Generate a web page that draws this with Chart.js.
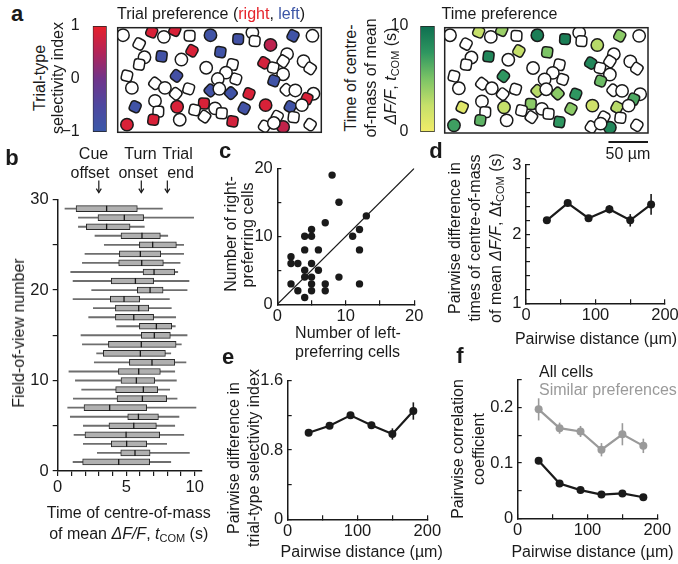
<!DOCTYPE html>
<html><head><meta charset="utf-8">
<script src="https://cdn.jsdelivr.net/npm/chart.js@4.4.1/dist/chart.umd.min.js"></script>
<style>
html,body{margin:0;padding:0;background:#fff;}
#root{position:relative;width:678px;height:564px;overflow:hidden;font-family:"Liberation Sans",Arial,Helvetica,sans-serif;color:#1a1a1a;}
.t{position:absolute;white-space:nowrap;transform:translate(-50%,-50%);font-size:16px;line-height:18px;}
sub{font-size:11px;vertical-align:-3px;line-height:0;}
canvas{position:absolute;}
</style></head><body><div id="root"></div>
<script>
// ---------------- DATA ----------------
// Panel a: cell positions in the field of view (µm), selectivity index and t_COM (null = not significant)
const FIELD_W = 257, FIELD_H = 134, scaleBarUm = 50;
const cellX = [6.7,42.9,58.3,72.1,90.8,117.1,152.1,170.0,172.9,221.3,245.8,27.1,192.9,93.8,55.4,80.4,129.6,33.8,27.1,184.6,213.8,208.8,234.6,242.9,196.3,111.7,145.0,136.7,11.7,74.2,17.9,47.1,59.6,73.3,89.6,126.3,149.2,208.8,197.1,212.9,224.2,117.1,128.3,142.9,165.8,247.1,238.8,47.1,22.1,51.3,75.0,108.8,122.9,131.3,159.6,186.7,217.9,232.5,201.3,222.1,11.7,45.0,78.3,145.0,185.4,208.8,242.9,197.1,109.6,97.1];
const cellY = [9.6,5.4,11.7,3.3,10.4,9.6,14.6,6.3,17.1,10.4,10.4,20.8,22.1,29.6,36.7,40.8,31.3,37.9,47.1,45.0,33.8,42.9,42.9,52.1,51.3,51.3,47.1,57.5,61.7,61.7,77.1,71.3,77.1,84.6,78.3,65.8,65.8,59.6,67.9,79.6,80.4,80.4,78.3,83.8,84.6,84.6,90.8,93.8,101.3,107.5,101.3,97.1,103.3,109.6,103.3,99.2,101.3,99.2,113.8,114.6,124.2,117.9,117.9,120.0,126.3,127.1,124.2,122.1,113.8,105.4];
const cellSelectivity = [null,0.85,null,0.85,null,-0.85,-0.8,null,null,-0.85,null,null,0.6,0.85,-0.8,null,-0.85,null,null,0.8,null,null,null,null,null,null,null,null,null,-0.75,null,null,null,null,null,null,null,null,-0.85,null,null,-0.8,null,-0.85,0.85,null,0.85,null,-0.85,null,0.85,0.85,null,null,-0.8,0.85,-0.85,null,null,null,0.85,0.85,null,0.8,null,0.65,null,null,null,null];
const cellTcom = [null,2.5,null,4,null,9,9,null,null,4.5,null,null,3,2.5,8.5,null,5,null,null,8.5,null,null,null,null,null,null,null,null,null,7.5,null,null,null,null,null,null,null,null,5.5,null,null,3,null,4.5,7.5,null,6.5,null,1,null,2.5,4.5,null,null,4.5,2,3,null,null,null,7,6,null,7.5,null,8.5,null,null,null,null];
const selTicks = [-1,0,1];
const tcomTicks = [0,10];

// Panel b: box plots of t_COM per field of view
const fovNumber   = [1,2,3,4,5,6,7,8,9,10,11,12,13,14,15,16,17,18,19,20,21,22,23,24,25,26,27,28,29];
const whiskerLow  = [1.12,2.89,1.87,1.19,1.87,0.92,0.73,1.14,1.75,1.29,0.82,2.67,2.84,1.80,1.70,4.30,2.26,2.60,1.12,2.48,1.12,0.95,1.80,1.99,3.40,2.72,1.51,1.51,0.53];
const q1          = [1.82,4.60,3.91,1.99,3.74,5.11,1.92,4.33,4.23,4.62,4.43,5.23,3.33,3.70,6.10,5.96,4.21,4.21,3.84,5.81,3.91,6.23,4.45,4.50,5.96,4.62,2.09,2.94,1.34];
const median      = [4.45,5.64,5.03,4.99,5.55,5.89,3.79,6.18,6.25,5.74,5.91,6.88,6.03,6.10,7.05,7.20,5.55,5.91,4.84,6.74,5.67,7.03,6.13,6.03,6.93,6.15,3.57,4.86,3.57];
const q3          = [6.71,6.74,6.49,7.44,7.20,7.35,6.49,7.95,7.30,7.08,7.49,8.54,7.86,8.64,8.22,8.32,7.00,6.64,5.98,7.69,7.00,8.54,7.71,7.52,8.66,7.49,5.28,6.27,5.81];
const whiskerHigh = [8.25,9.61,7.95,9.20,8.54,8.85,10.09,8.71,8.17,8.66,8.54,9.36,8.25,9.02,9.44,8.58,8.61,8.29,8.15,9.44,9.58,8.76,8.93,9.19,9.19,8.03,6.32,9.92,7.64];
const eventTimes  = [3.0, 6.1, 8.0];   // cue offset, turn onset, trial end

// Panel c
const leftCells  = [8,9,13,7,5,4,5,11,12,4,6,12,2,2,3,5,4,6,4,5,9,2,5,7,12,3,5,7,4];
const rightCells = [19,15,13,12,11,10,10,10,11,8,8,8,7,6,6,6,5,5,4,4,4,3,3,3,3,2,2,2,1];

// Panels d, e, f
const distance = [30,60,90,120,150,180];
const dtCom    = [2.20,2.45,2.23,2.36,2.20,2.43];
const dtComErr = [0.03,0.04,0.04,0.06,0.09,0.15];
const dSel     = [1.00,1.08,1.20,1.085,0.985,1.25];
const dSelErr  = [0.015,0.02,0.035,0.04,0.065,0.10];
const corrAll     = [0.104,0.063,0.051,0.043,0.045,0.038];
const corrAllErr  = [0.003,0.003,0.003,0.003,0.003,0.003];
const corrSim     = [0.197,0.163,0.157,0.124,0.152,0.131];
const corrSimErr  = [0.02,0.01,0.01,0.012,0.02,0.013];

// ---------------- SETUP ----------------
const FONT = '"Liberation Sans", Arial, Helvetica, sans-serif';
const INK = '#1a1a1a';
Chart.defaults.font.family = FONT;
Chart.defaults.color = INK;
Chart.defaults.animation = false;
Chart.defaults.responsive = false;
Chart.defaults.events = [];
Chart.defaults.plugins.legend.display = false;
Chart.defaults.plugins.tooltip.enabled = false;

const root = document.getElementById('root');
function mk(left, top, w, h) {
  const c = document.createElement('canvas');
  c.width = w; c.height = h;
  c.style.left = left + 'px'; c.style.top = top + 'px';
  c.style.width = w + 'px'; c.style.height = h + 'px';
  root.appendChild(c);
  return c;
}
function T(html, x, y, o = {}) {
  const d = document.createElement('div');
  d.className = 't'; d.innerHTML = html;
  d.style.left = x + 'px'; d.style.top = y + 'px';
  if (o.size) { d.style.fontSize = o.size + 'px'; d.style.lineHeight = o.size + 'px'; }
  if (o.rot) d.style.transform = 'translate(-50%,-50%) rotate(-90deg)';
  if (o.leftAlign) d.style.transform = 'translate(0,-50%)';
  if (o.bold) d.style.fontWeight = 'bold';
  if (o.color) d.style.color = o.color;
  root.appendChild(d);
}
const fit = size => s => {
  if (s.isHorizontal()) s.height = size; else s.width = size;
  s.paddingLeft = s.paddingRight = s.paddingTop = s.paddingBottom = 0;
};
function lin({min, max, step, labels, size, inward, pos, pad, font, reverse}) {
  return {
    type: 'linear', position: pos, min, max, offset: false, reverse: !!reverse,
    afterFit: fit(size),
    afterBuildTicks: s => {
      const t = []; const n = Math.floor((max - min) / step + 1e-9);
      for (let k = 0; k <= n; k++) t.push({value: +(min + k * step).toFixed(6)});
      s.ticks = t;
    },
    ticks: {autoSkip: false, maxRotation: 0, minRotation: 0, padding: pad, color: INK,
      font: {family: FONT, size: font || 16.5},
      callback: v => labels.some(l => Math.abs(l - v) < 1e-6) ? String(v).replace('-', '\u2212') : ''},
    grid: {display: true, drawOnChartArea: false, drawTicks: true, tickLength: inward ? -4 : 5,
      color: INK, lineWidth: 1.2, offset: false},
    border: {display: true, color: INK, width: 1.5}
  };
}
function lerpColor(stops, v) {
  if (v <= stops[0][0]) return `rgb(${stops[0][1]})`;
  for (let i = 1; i < stops.length; i++) {
    if (v <= stops[i][0]) {
      const [v0, c0] = stops[i - 1], [v1, c1] = stops[i];
      const f = (v - v0) / (v1 - v0);
      return `rgb(${c0.map((c, k) => Math.round(c + (c1[k] - c) * f)).join(',')})`;
    }
  }
  return `rgb(${stops[stops.length - 1][1]})`;
}
const selStops  = [[-1,[58,88,168]],[-0.5,[78,72,160]],[0,[112,52,138]],[0.5,[178,36,88]],[1,[232,32,42]]];
const tcomStops = [[0,[242,236,104]],[2.5,[198,224,106]],[5,[124,196,102]],[7.5,[46,150,96]],[10,[14,110,80]]];

const errPlugin = {id: 'err', beforeDatasetsDraw(chart) {
  const ctx = chart.ctx, xs = chart.scales.x, ys = chart.scales.y;
  chart.data.datasets.forEach(ds => {
    if (!ds.errors) return;
    ctx.save(); ctx.strokeStyle = ds.borderColor; ctx.lineWidth = 1.6;
    ds.data.forEach((p, j) => {
      const x = xs.getPixelForValue(p.x);
      ctx.beginPath();
      ctx.moveTo(x, ys.getPixelForValue(p.y - ds.errors[j]));
      ctx.lineTo(x, ys.getPixelForValue(p.y + ds.errors[j]));
      ctx.stroke();
    });
    ctx.restore();
  });
}};
const framePlugin = {id: 'frame', afterDatasetsDraw(chart) {
  const ca = chart.chartArea, ctx = chart.ctx;
  ctx.save(); ctx.strokeStyle = '#222'; ctx.lineWidth = 1.5;
  ctx.strokeRect(ca.left, ca.top, ca.right - ca.left, ca.bottom - ca.top);
  ctx.restore();
}};
const scaleBarPlugin = {id: 'sbar', afterDraw(chart) {
  const xs = chart.scales.x, ctx = chart.ctx;
  const x2 = xs.getPixelForValue(FIELD_W), x1 = xs.getPixelForValue(FIELD_W - scaleBarUm);
  const y = chart.chartArea.bottom + 9;
  ctx.save(); ctx.strokeStyle = INK; ctx.lineWidth = 2;
  ctx.beginPath(); ctx.moveTo(x1, y); ctx.lineTo(x2, y); ctx.stroke(); ctx.restore();
}};
const arrowPlugin = {id: 'arrows', afterDraw(chart) {
  const xs = chart.scales.x, ctx = chart.ctx, top = chart.chartArea.top;
  ctx.save(); ctx.strokeStyle = INK; ctx.lineWidth = 1.2;
  eventTimes.forEach(t => {
    const x = xs.getPixelForValue(t), y1 = top - 19, y2 = top - 7;
    ctx.beginPath(); ctx.moveTo(x, y1); ctx.lineTo(x, y2); ctx.stroke();
    ctx.beginPath(); ctx.moveTo(x - 2.5, y2 - 4); ctx.lineTo(x, y2); ctx.lineTo(x + 2.5, y2 - 4); ctx.stroke();
  });
  ctx.restore();
}};

// ---------------- PANEL a ----------------
function colorbar(left, top, w, h, pad, yW, ticks, stops, labelPad) {
  const min = ticks[0], max = ticks[ticks.length - 1];
  new Chart(mk(left, top, w, h), {
    type: 'bar',
    data: {labels: ['bar'], datasets: [{
      data: [[min, max]],
      backgroundColor: c => {
        const ca = c.chart.chartArea; if (!ca) return '#888';
        const g = c.chart.ctx.createLinearGradient(0, ca.bottom, 0, ca.top);
        stops.forEach(([v, col]) => g.addColorStop((v - min) / (max - min), `rgb(${col})`));
        return g;
      },
      borderColor: '#222', borderWidth: 1, borderSkipped: false, barPercentage: 1, categoryPercentage: 1
    }]},
    options: {layout: {padding: pad}, scales: {
      x: {display: false},
      y: {type: 'linear', min, max, afterFit: fit(yW),
        afterBuildTicks: s => { s.ticks = ticks.map(v => ({value: v})); },
        grid: {display: false}, border: {display: false},
        ticks: {padding: labelPad, color: INK, font: {family: FONT, size: 16},
          callback: v => String(v).replace('-', '\u2212')}}
    }}
  });
}
colorbar(60, 15, 50, 130, {left: 0, top: 11, right: 3.3, bottom: 13}, 32.7, selTicks, selStops, 5);
colorbar(385, 15, 55, 130, {left: 0, top: 11, right: 5.3, bottom: 13}, 35.3, tcomTicks, tcomStops, 4);

const cellShapes = ['circle', 'rectRounded', 'circle', 'rectRounded', 'rectRounded'];
function cellMap(left, top, w, h, pad, values, stops, extra) {
  new Chart(mk(left, top, w, h), {
    type: 'scatter',
    data: {datasets: [{
      data: cellX.map((x, i) => ({x, y: cellY[i]})),
      pointRadius: 6.2, pointBorderWidth: 1.5, pointBorderColor: INK,
      pointStyle: c => cellShapes[c.dataIndex % cellShapes.length],
      rotation: c => (c.dataIndex * 23) % 45,
      pointBackgroundColor: c => values[c.dataIndex] == null ? '#ffffff' : lerpColor(stops, values[c.dataIndex]),
      clip: 0
    }]},
    options: {layout: {padding: pad}, scales: {
      x: {type: 'linear', min: 0, max: FIELD_W, display: false},
      y: {type: 'linear', min: 0, max: FIELD_H, reverse: true, display: false}
    }},
    plugins: [framePlugin].concat(extra || [])
  });
}
cellMap(110, 20, 220, 120, {left: 5.7, top: 5.7, right: 8.7, bottom: 7.3}, cellSelectivity, selStops);
cellMap(437, 20, 220, 135, {left: 5.7, top: 5.7, right: 9, bottom: 22}, cellTcom, tcomStops, [scaleBarPlugin]);

// ---------------- PANEL b ----------------
new Chart(mk(0, 140, 215, 360), {
  type: 'bar',
  data: {datasets: [
    {type: 'bar', indexAxis: 'y', data: fovNumber.map((n, i) => ({y: n, x: [whiskerLow[i], whiskerHigh[i]]})),
     backgroundColor: '#6e6e6e', barThickness: 1.2, grouped: false, order: 3},
    {type: 'bar', indexAxis: 'y', data: fovNumber.map((n, i) => ({y: n, x: [q1[i], q3[i]]})),
     backgroundColor: '#b0b0b0', borderColor: '#2a2a2a', borderWidth: 1, borderSkipped: false,
     barThickness: 6, grouped: false, order: 2},
    {type: 'scatter', data: fovNumber.map((n, i) => ({x: median[i], y: n})),
     pointStyle: 'line', rotation: 90, pointRadius: 3, pointBorderColor: INK, pointBorderWidth: 1.3, order: 1}
  ]},
  options: {
    layout: {padding: {left: 0, top: 59.6, right: 13.4, bottom: 0}},
    scales: {
      x: lin({min: 0, max: 10.5, step: 1, labels: [0,5,10], size: 29, inward: false, pos: 'bottom', pad: 2}),
      y: lin({min: 0, max: 30, step: 5, labels: [0,10,20,30], size: 57.7, inward: false, pos: 'left', pad: 4})
    }
  },
  plugins: [arrowPlugin]
});

// ---------------- PANEL c ----------------
new Chart(mk(220, 140, 210, 185), {
  type: 'scatter',
  data: {datasets: [
    {data: leftCells.map((x, i) => ({x, y: rightCells[i]})), pointRadius: 3.7,
     pointBackgroundColor: INK, pointBorderWidth: 0, order: 1, clip: false},
    {type: 'line', data: [{x: 0, y: 0}, {x: 20, y: 20}], borderColor: INK, borderWidth: 1.2, pointRadius: 0, order: 2}
  ]},
  options: {
    layout: {padding: {left: 0, top: 28.3, right: 15.7, bottom: 0}},
    scales: {
      x: lin({min: 0, max: 20, step: 5, labels: [0,10,20], size: 20.7, inward: true, pos: 'bottom', pad: 6}),
      y: lin({min: 0, max: 20, step: 5, labels: [0,10,20], size: 57.3, inward: true, pos: 'left', pad: 8.5})
    }
  }
});

// ---------------- PANELS d, e, f ----------------
function seriesDs(ys, errs, color) {
  return {data: distance.map((x, i) => ({x, y: ys[i]})), showLine: true, borderColor: color, borderWidth: 2.2,
    pointRadius: 4, pointBackgroundColor: color, pointBorderWidth: 0, errors: errs, clip: false};
}
new Chart(mk(500, 140, 178, 185), {
  type: 'scatter',
  data: {datasets: [seriesDs(dtCom, dtComErr, INK)]},
  options: {
    layout: {padding: {left: 0, top: 25, right: 13, bottom: 0}},
    scales: {
      x: lin({min: 0, max: 200, step: 50, labels: [0,100,200], size: 21.7, inward: true, pos: 'bottom', pad: 6}),
      y: lin({min: 1, max: 3, step: 0.2, labels: [1,2,3], size: 26, inward: true, pos: 'left', pad: 8.5})
    }
  },
  plugins: [errPlugin]
});
new Chart(mk(220, 355, 225, 185), {
  type: 'scatter',
  data: {datasets: [seriesDs(dSel, dSelErr, INK)]},
  options: {
    layout: {padding: {left: 0, top: 25.7, right: 17.7, bottom: 0}},
    scales: {
      x: lin({min: 0, max: 200, step: 50, labels: [0,100,200], size: 20.7, inward: true, pos: 'bottom', pad: 6}),
      y: lin({min: 0, max: 1.6, step: 0.4, labels: [0,0.8,1.6], size: 67.7, inward: true, pos: 'left', pad: 8.5})
    }
  },
  plugins: [errPlugin]
});
new Chart(mk(480, 355, 198, 185), {
  type: 'scatter',
  data: {datasets: [seriesDs(corrSim, corrSimErr, '#9a9a9a'), seriesDs(corrAll, corrAllErr, INK)]},
  options: {
    layout: {padding: {left: 0, top: 25.05, right: 20.7, bottom: 0}},
    scales: {
      x: lin({min: 0, max: 200, step: 50, labels: [0,100,200], size: 21.7, inward: true, pos: 'bottom', pad: 6}),
      y: lin({min: 0, max: 0.25, step: 0.05, labels: [0,0.1,0.2], size: 37.7, inward: true, pos: 'left', pad: 8.5})
    }
  },
  plugins: [errPlugin]
});

// ---------------- TEXT ----------------
const L = {size: 22, bold: true};
T('a', 17, 14, L); T('b', 12, 158, L); T('c', 225, 151, L); T('d', 436, 150.5, L); T('e', 228, 357, L); T('f', 460, 355.5, L);

T('Trial preference (<span style="color:#e5232b">right</span>, <span style="color:#3d56a6">left</span>)', 211, 14);
T('Time preference', 499.5, 14);
T('Trial-type', 40, 78, {rot: true});
T('selectivity index', 58, 78, {rot: true});
T('Time of centre-', 351, 78, {rot: true});
T('of-mass of mean', 371, 78, {rot: true});
T('<i>\u0394F/F</i>, <i>t</i><sub>COM</sub> (s)', 391, 76, {rot: true});
T('50 \u00b5m', 628, 154);

T('Cue', 93.5, 154); T('offset', 90, 172.5);
T('Turn', 140.5, 154); T('onset', 138, 172.5);
T('Trial', 177.5, 154); T('end', 180.5, 172.5);
T('Field-of-view number', 19, 333, {rot: true});
T('Time of centre-of-mass', 128.7, 513);
T('of mean <i>\u0394F/F</i>, <i>t</i><sub>COM</sub> (s)', 128.7, 534);

T('Number of left-', 348, 333);
T('preferring cells', 347.5, 352);
T('Number of right-', 231, 234, {rot: true});
T('preferring cells', 247.5, 235, {rot: true});

T('Pairwise difference in', 455, 238, {rot: true});
T('times of centre-of-mass', 475, 238, {rot: true});
T('of mean <i>\u0394F/F</i>, \u0394<i>t</i><sub>COM</sub> (s)', 496, 238, {rot: true});
T('Pairwise distance (\u00b5m)', 596, 339);

T('Pairwise difference in', 234, 458, {rot: true});
T('trial-type selectivity index', 254, 458, {rot: true});
T('Pairwise distance (\u00b5m)', 361.7, 552);

T('Pairwise correlation', 458.3, 449, {rot: true});
T('coefficient', 479.3, 449, {rot: true});
T('Pairwise distance (\u00b5m)', 592.5, 552);
T('All cells', 539, 372, {leftAlign: true});
T('Similar preferences', 539, 390, {leftAlign: true, color: '#9a9a9a'});
</script></body></html>
